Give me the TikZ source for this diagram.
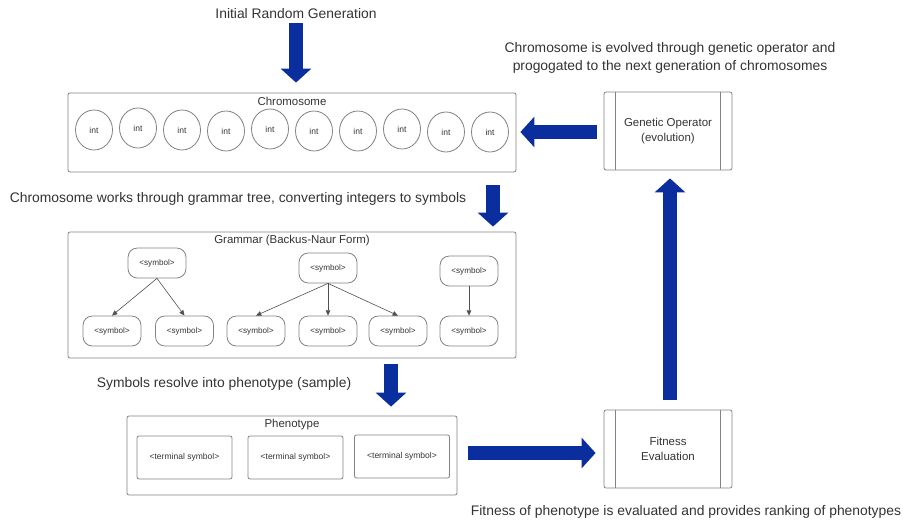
\documentclass[tikz,border=0pt]{standalone}
\usepackage{fontspec}
\setmainfont{Liberation Sans}
\usetikzlibrary{arrows.meta,shapes.geometric}
\definecolor{arrowblue}{RGB}{10,46,158}
\definecolor{txt}{RGB}{51,51,51}
\definecolor{edgegray}{RGB}{130,130,130}
\definecolor{linkgray}{RGB}{80,80,80}
\begin{document}
\begin{tikzpicture}[x=0.75pt,y=-0.75pt,
  every node/.style={text=txt},
  caption/.style={font=\fontsize{10.4}{12.9}\selectfont, align=center, inner sep=0pt},
  title/.style={font=\fontsize{8.6}{10}\selectfont, inner sep=0pt},
  frame/.style={draw=edgegray, line width=0.6pt, rounded corners=1.5pt, inner sep=0pt},
  intnode/.style={ellipse, draw=edgegray, line width=0.6pt, minimum width=27.75pt, minimum height=30pt, inner sep=0pt, font=\fontsize{6.4}{7}\selectfont},
  symnode/.style={draw=edgegray, line width=0.6pt, rounded corners=7pt, minimum width=43.5pt, minimum height=22.5pt, inner sep=0pt, font=\fontsize{6.1}{7}\selectfont},
  termnode/.style={draw=edgegray, line width=0.6pt, rounded corners=1.5pt, minimum width=71.25pt, minimum height=32.25pt, inner sep=0pt, font=\fontsize{6.4}{7.5}\selectfont},
  procnode/.style={draw=edgegray, line width=0.6pt, rounded corners=1.5pt, minimum width=96pt, minimum height=58.5pt, inner sep=0pt, align=center, font=\fontsize{8.6}{10.8}\selectfont},
  bigarrow/.style={draw=arrowblue, line width=10.5pt, -{Triangle[width=22.5pt,length=10.5pt]}},
  link/.style={draw=linkgray, line width=0.45pt, -{Triangle[length=4pt,width=3.5pt]}}
]
\useasboundingbox (0,0) rectangle (903,523);

% captions
\node[caption] (init) at (296,14) {Initial Random Generation};
\node[caption] (gotext) at (670,58) {Chromosome is evolved through genetic operator and\\progogated to the next generation of chromosomes};
\node[caption] (works) at (238,199) {Chromosome works through grammar tree, converting integers to symbols};
\node[caption] (resolve) at (224,384) {Symbols resolve into phenotype (sample)};
\node[caption] (fittext) at (686,512) {Fitness of phenotype is evaluated and provides ranking of phenotypes};

% chromosome
\node[frame, minimum width=336pt, minimum height=59.25pt] (chrom) at (292,132.5) {};
\node[title] (chromtitle) at (292,101) {Chromosome};
\node[intnode] (i1) at (94,130) {int};
\node[intnode] (i2) at (138,128) {int};
\node[intnode] (i3) at (182,130) {int};
\node[intnode] (i4) at (226,131) {int};
\node[intnode] (i5) at (270,129) {int};
\node[intnode] (i6) at (314,131) {int};
\node[intnode] (i7) at (358,131) {int};
\node[intnode] (i8) at (402,129) {int};
\node[intnode] (i9) at (446,132) {int};
\node[intnode] (i10) at (490,132) {int};

% grammar
\node[frame, minimum width=336pt, minimum height=94.5pt] (gram) at (292,295) {};
\node[title] (gramtitle) at (292,241) {Grammar (Backus-Naur Form)};
\node[symnode] (r1) at (157,263) {<symbol>};
\node[symnode] (c11) at (112,331) {<symbol>};
\node[symnode] (c12) at (184.5,331) {<symbol>};
\node[symnode] (r2) at (328,268) {<symbol>};
\node[symnode] (c21) at (256,331) {<symbol>};
\node[symnode] (c22) at (328,331) {<symbol>};
\node[symnode] (c23) at (398,331) {<symbol>};
\node[symnode] (r3) at (469,271) {<symbol>};
\node[symnode] (c31) at (469,331) {<symbol>};
\draw[link] (r1.south) -- (c11.north);
\draw[link] (r1.south) -- (c12.north);
\draw[link] (r2.south) -- (c21.north);
\draw[link] (r2.south) -- (c22.north);
\draw[link] (r2.south) -- (c23.north);
\draw[link] (r3.south) -- (c31.north);

% phenotype
\node[frame, minimum width=247.5pt, minimum height=59.25pt] (pheno) at (292,455.5) {};
\node[title] (phenotitle) at (292,425) {Phenotype};
\node[termnode] (t1) at (184.5,457.5) {<terminal symbol>};
\node[termnode] (t2) at (295.5,457.5) {<terminal symbol>};
\node[termnode] (t3) at (402,456.5) {<terminal symbol>};

% process boxes
\node[procnode] (go) at (668,131) {Genetic Operator\\(evolution)};
\draw[draw=edgegray, line width=0.6pt] ([xshift=9pt]go.north west) -- ([xshift=9pt]go.south west);
\draw[draw=edgegray, line width=0.6pt] ([xshift=-9pt]go.north east) -- ([xshift=-9pt]go.south east);
\node[procnode] (fit) at (668,449) {Fitness\\Evaluation};
\draw[draw=edgegray, line width=0.6pt] ([xshift=9pt]fit.north west) -- ([xshift=9pt]fit.south west);
\draw[draw=edgegray, line width=0.6pt] ([xshift=-9pt]fit.north east) -- ([xshift=-9pt]fit.south east);

% big arrows
\coordinate (xa) at (296,0);
\coordinate (xb) at (493,0);
\coordinate (xc) at (391,0);
\coordinate (ya) at (0,132);
\coordinate (yb) at (0,453);
\coordinate (xd) at (670,0);
\draw[bigarrow, shorten <=3pt, shorten >=7.5pt] (init.south -| xa) -- (chrom.north -| xa);
\draw[bigarrow, shorten <=9.75pt, shorten >=3.75pt] (chrom.south -| xb) -- (gram.north -| xb);
\draw[bigarrow, shorten <=4.5pt, shorten >=6.75pt] (gram.south -| xc) -- (pheno.north -| xc);
\draw[bigarrow, shorten <=8.25pt, shorten >=6pt] (pheno.east |- yb) -- (fit.west |- yb);
\draw[bigarrow, shorten <=7.5pt, shorten >=6pt] (fit.north -| xd) -- (go.south -| xd);
\draw[bigarrow, shorten <=5.25pt, shorten >=3pt] (go.west |- ya) -- (chrom.east |- ya);
\end{tikzpicture}
\end{document}
